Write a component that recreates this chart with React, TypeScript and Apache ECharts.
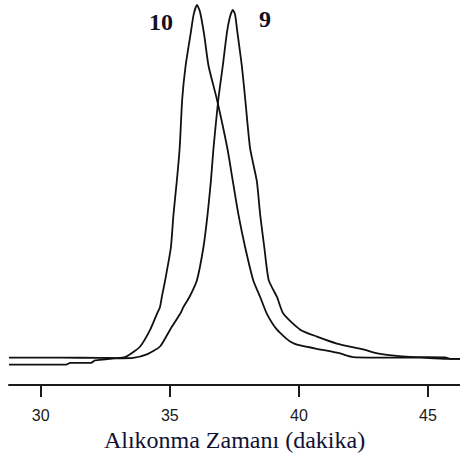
import React, { useEffect, useRef } from "react";
import * as echarts from "echarts";

// Peak 10 (earlier eluting)
const time10 = [28.77, 30.75, 32.3, 32.95, 33.33, 33.85, 34.24, 34.5, 34.62, 34.69, 34.82, 35.04, 35.14, 35.27, 35.38, 35.48, 35.61, 35.81, 35.92, 36.05, 36.17, 36.33, 36.5, 36.82, 37.23, 37.44, 37.66, 37.92, 38.23, 38.5, 38.76, 39.15, 39.66, 40.05, 40.94, 41.6, 42.1, 43.15, 44.7, 45.86, 46.24];
const signal10 = [0.14, 0.11, 0.06, 0, 0.49, 3.34, 8.2, 12.77, 14.77, 17.63, 22.49, 31.91, 41.34, 51.06, 60.49, 74.77, 84.29, 93.83, 99.06, 101.9, 99.9, 93.34, 84.29, 74.77, 60.49, 51.06, 41.34, 31.91, 22.49, 17.63, 12.77, 8.2, 4.77, 3.63, 2.34, 1.34, 0.29, 0.14, 0.11, -0.23, -0.23];

// Peak 9 (later eluting)
const time9 = [28.77, 30.98, 31.14, 31.95, 32.1, 32.49, 32.88, 33.58, 34.11, 34.62, 35.01, 35.4, 35.53, 35.76, 36.05, 36.3, 36.46, 36.59, 36.69, 36.88, 37.05, 37.21, 37.32, 37.44, 37.53, 37.62, 37.79, 37.92, 38.11, 38.37, 38.5, 38.66, 38.83, 39.15, 39.4, 40.05, 40.7, 41.47, 42.49, 43.15, 44.31, 45.67, 45.86, 46.24];
const signal9 = [-1.89, -1.89, -1.37, -1.37, -0.66, -0.37, -0.09, 0.06, 1.06, 3.34, 8.2, 12.77, 14.77, 17.63, 22.49, 31.91, 41.34, 51.06, 60.49, 74.77, 84.29, 93.83, 98.2, 100.49, 99.06, 93.83, 84.29, 74.77, 60.49, 51.06, 41.34, 31.91, 22.49, 17.63, 12.77, 8.2, 6.2, 4.2, 2.49, 1.2, 0.34, 0.2, -0.23, -0.23];

const tickValues = [30, 35, 40, 45];
const peakLabels = ["10", "9"];
const axisTitle = "Alıkonma Zamanı (dakika)";

export default function App() {
  const ref = useRef<HTMLDivElement>(null);
  useEffect(() => {
    if (!ref.current) return;
    const chart = echarts.init(ref.current, null, { renderer: "svg" });
    const pairs = (xs: number[], ys: number[]) => xs.map((x, i) => [x, ys[i]]);
    chart.setOption({
      animation: false,
      backgroundColor: "#ffffff",
      grid: { left: 9, right: 0, top: 0, bottom: 68 },
      xAxis: {
        type: "value",
        min: 28.77,
        max: 46.24,
        splitLine: { show: false },
        axisLine: { show: true, onZero: false, lineStyle: { color: "#1a1a1a", width: 2 } },
        axisTick: {
          show: true,
          length: 12,
          inside: false,
          customValues: tickValues,
          lineStyle: { color: "#1a1a1a", width: 2 },
        },
        axisLabel: {
          customValues: tickValues,
          margin: 22,
          color: "#1a1a1a",
          fontFamily: "'Liberation Sans', Arial, sans-serif",
          fontSize: 16,
        },
        name: axisTitle,
        nameLocation: "middle",
        nameGap: 34,
        nameTextStyle: {
          color: "#111133",
          fontFamily: "'Liberation Serif', 'Times New Roman', serif",
          fontSize: 24,
        },
      },
      yAxis: {
        type: "value",
        show: false,
        min: -7.8,
        max: 103.34,
        splitLine: { show: false },
      },
      series: [
        {
          name: peakLabels[0],
          type: "line",
          data: pairs(time10, signal10),
          showSymbol: false,
          smooth: 0.2,
          lineStyle: { color: "#111111", width: 1.8 },
        },
        {
          name: peakLabels[1],
          type: "line",
          data: pairs(time9, signal9),
          showSymbol: false,
          smooth: 0.2,
          lineStyle: { color: "#111111", width: 1.8 },
        },
      ],
      graphic: [
        {
          type: "text",
          left: 149,
          top: 10,
          style: {
            text: peakLabels[0],
            fill: "#111122",
            font: "bold 24px 'Liberation Serif', 'Times New Roman', serif",
          },
        },
        {
          type: "text",
          left: 259,
          top: 7,
          style: {
            text: peakLabels[1],
            fill: "#111122",
            font: "bold 24px 'Liberation Serif', 'Times New Roman', serif",
          },
        },
      ],
    });
    return () => chart.dispose();
  }, []);
  return (
    <div
      ref={ref}
      style={{ position: "fixed", left: 0, top: 0, width: 460, height: 457 }}
    />
  );
}
